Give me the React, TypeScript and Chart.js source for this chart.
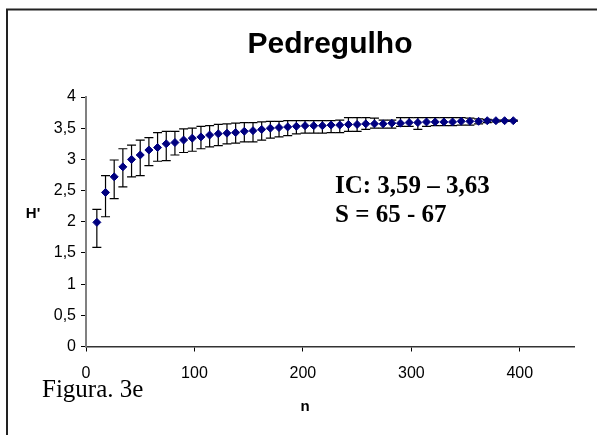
import React, { useEffect, useRef } from "react";
import { Chart, registerables } from "chart.js";

Chart.register(...registerables);

// Sample size n
const sampleN = [
  10, 18, 26, 34, 42, 50, 58, 66, 74, 82,
  90, 98, 106, 114, 122, 130, 138, 146, 154, 162,
  170, 178, 186, 194, 202, 210, 218, 226, 234, 242,
  250, 258, 266, 274, 282, 290, 298, 306, 314, 322,
  330, 338, 346, 354, 362, 370, 378, 386, 394,
];

// Mean Shannon diversity H'
const meanH = [
  1.99, 2.47, 2.72, 2.88, 3.0, 3.07, 3.15, 3.19, 3.25, 3.27,
  3.31, 3.34, 3.36, 3.39, 3.41, 3.42, 3.43, 3.45, 3.46, 3.48,
  3.5, 3.51, 3.52, 3.53, 3.54, 3.54, 3.54, 3.55, 3.55, 3.56,
  3.56, 3.57, 3.57, 3.57, 3.58, 3.58, 3.59, 3.59, 3.6, 3.6,
  3.6, 3.6, 3.61, 3.61, 3.61, 3.62, 3.62, 3.62, 3.62,
];

// Upper end of the interval
const upperH = [
  2.2, 2.74, 2.99, 3.17, 3.23, 3.31, 3.35, 3.43, 3.45, 3.45,
  3.49, 3.5, 3.53, 3.54, 3.56, 3.57, 3.58, 3.59, 3.59, 3.6,
  3.61, 3.61, 3.62, 3.62, 3.62, 3.62, 3.62, 3.62, 3.63, 3.67,
  3.67, 3.67, 3.66, 3.63, 3.63, 3.67, 3.67, 3.67, 3.67, 3.67,
  3.67, 3.67, 3.67, 3.66, 3.65, 3.64, 3.63, 3.63, 3.63,
];

// Lower end of the interval
const lowerH = [
  1.59, 2.08, 2.37, 2.56, 2.72, 2.74, 2.9, 2.97, 2.98, 3.07,
  3.11, 3.13, 3.17, 3.2, 3.22, 3.25, 3.26, 3.28, 3.28, 3.31,
  3.34, 3.36, 3.38, 3.41, 3.42, 3.42, 3.42, 3.43, 3.43, 3.45,
  3.45, 3.48, 3.5, 3.5, 3.5, 3.53, 3.53, 3.48, 3.53, 3.54,
  3.54, 3.54, 3.55, 3.55, 3.57, 3.59, 3.6, 3.61, 3.61,
];

const chartTitle = "Pedregulho";
const xTitle = "n";
const yTitle = "H'";
const noteLines = ["IC: 3,59 \u2013 3,63", "S = 65 - 67"];
const figureLabel = "Figura. 3e";

const errorBarPlugin = {
  id: "errorBars",
  beforeDatasetsDraw(chart: any) {
    const { ctx } = chart;
    const x = chart.scales.x;
    const y = chart.scales.y;
    ctx.save();
    ctx.strokeStyle = "#000";
    ctx.lineWidth = 1.2;
    sampleN.forEach((n, i) => {
      const px = x.getPixelForValue(n);
      const top = y.getPixelForValue(upperH[i]);
      const bot = y.getPixelForValue(lowerH[i]);
      ctx.beginPath();
      ctx.moveTo(px, top);
      ctx.lineTo(px, bot);
      ctx.moveTo(px - 4.5, top);
      ctx.lineTo(px + 4.5, top);
      ctx.moveTo(px - 4.5, bot);
      ctx.lineTo(px + 4.5, bot);
      ctx.stroke();
    });
    ctx.restore();
  },
};

const decorPlugin = {
  id: "decor",
  afterDraw(chart: any) {
    const { ctx, chartArea } = chart;
    ctx.save();
    // frame
    ctx.strokeStyle = "#222";
    ctx.lineWidth = 2;
    ctx.beginPath();
    ctx.moveTo(7, 435);
    ctx.lineTo(7, 9.5);
    ctx.lineTo(597, 9.5);
    ctx.stroke();

    ctx.fillStyle = "#000";
    // title
    ctx.font = "bold 30px 'Liberation Sans', Arial, sans-serif";
    ctx.textAlign = "center";
    ctx.textBaseline = "alphabetic";
    ctx.fillText(chartTitle, (chartArea.left + chartArea.right) / 2, 53);

    // axis titles
    ctx.font = "bold 15px 'Liberation Sans', Arial, sans-serif";
    ctx.textBaseline = "middle";
    ctx.fillText(yTitle, 33, 214);
    ctx.fillText(xTitle, 305, 407);

    // notes
    ctx.textAlign = "left";
    ctx.textBaseline = "alphabetic";
    ctx.font = "bold 25px 'Liberation Serif', 'Times New Roman', serif";
    ctx.fillText(noteLines[0], 335, 193);
    ctx.fillText(noteLines[1], 335, 222);

    ctx.font = "25px 'Liberation Serif', 'Times New Roman', serif";
    ctx.fillText(figureLabel, 42, 396.5);
    ctx.restore();
  },
};

export default function App() {
  const canvasRef = useRef<HTMLCanvasElement | null>(null);

  useEffect(() => {
    const canvas = canvasRef.current;
    if (!canvas) return;
    const chart = new Chart(canvas, {
      type: "scatter",
      data: {
        datasets: [
          {
            data: sampleN.map((n, i) => ({ x: n, y: meanH[i] })),
            pointStyle: "rectRot",
            pointRadius: 4,
            pointBorderWidth: 1,
            backgroundColor: "#000080",
            borderColor: "#000080",
            showLine: false,
          },
        ],
      },
      options: {
        responsive: false,
        animation: false,
        events: [],
        layout: { padding: { top: 97, right: 23, left: 0, bottom: 0 } },
        plugins: {
          legend: { display: false },
          title: { display: false },
          tooltip: { enabled: false },
        },
        scales: {
          x: {
            type: "linear",
            min: 0,
            max: 450,
            afterFit: (scale: any) => {
              scale.height = 88.5;
            },
            ticks: {
              stepSize: 100,
              includeBounds: false,
              padding: 12,
              color: "#000",
              font: { family: "'Liberation Sans', Arial, sans-serif", size: 16 },
              maxRotation: 0,
            },
            grid: {
              drawOnChartArea: false,
              drawTicks: true,
              tickLength: 5,
              color: "#000",
            },
            border: { display: true, color: "#333", width: 1.5 },
          },
          y: {
            type: "linear",
            min: 0,
            max: 4,
            afterFit: (scale: any) => {
              scale.width = 86;
            },
            ticks: {
              stepSize: 0.5,
              padding: 5,
              color: "#000",
              font: { family: "'Liberation Sans', Arial, sans-serif", size: 16 },
              callback: (v: any) => String(v).replace(".", ","),
            },
            grid: {
              drawOnChartArea: false,
              drawTicks: true,
              tickLength: 5,
              color: "#000",
            },
            border: { display: true, color: "#808080", width: 2 },
          },
        },
      },
      plugins: [errorBarPlugin, decorPlugin],
    });
    return () => chart.destroy();
  }, []);

  return (
    <div style={{ position: "absolute", left: 0, top: 0, width: 597, height: 435, background: "#fff" }}>
      <canvas ref={canvasRef} width={597} height={435} style={{ display: "block" }} />
    </div>
  );
}
